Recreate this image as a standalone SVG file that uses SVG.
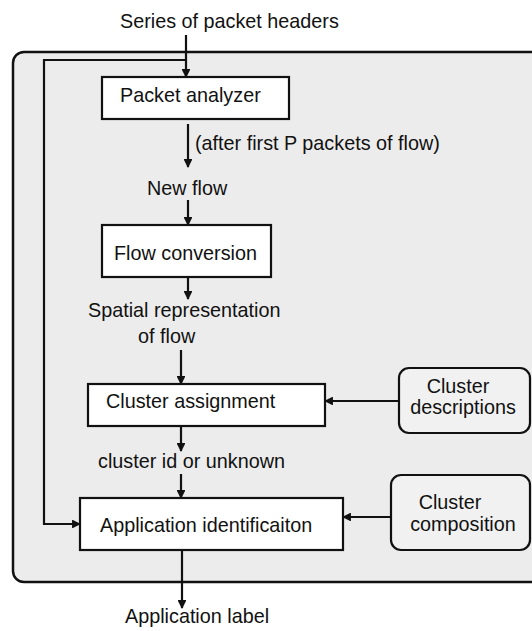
<svg xmlns="http://www.w3.org/2000/svg" width="532" height="631" viewBox="0 0 532 631">
<style>
text{font-family:"Liberation Sans",Arial,sans-serif;font-size:19.8px;fill:#111}
.box{fill:#fff;stroke:#111;stroke-width:2.2}
.rbox{fill:#f1f1f1;stroke:#111;stroke-width:2.2}
.ln{fill:none;stroke:#111;stroke-width:2.2}
.mid{text-anchor:middle}
</style>
<defs>
<marker id="ah" viewBox="0 0 10 10" refX="9" refY="5" markerWidth="4" markerHeight="4" orient="auto" markerUnits="strokeWidth">
<path d="M0,0 L10,5 L0,10 z" fill="#111"/>
</marker>
</defs>
<rect width="532" height="631" fill="#fff"/>
<g id="frame">
<rect x="13" y="52" width="532" height="530" rx="11" fill="#ececec" stroke="#111" stroke-width="2.5"/>
</g>
<g id="connectors">
<line class="ln" x1="186" y1="35" x2="186" y2="77" marker-end="url(#ah)"/>
<polyline class="ln" points="186,60 44,60 44,524 80,524" marker-end="url(#ah)"/>
<line class="ln" x1="188" y1="124" x2="188" y2="167" marker-end="url(#ah)"/>
<line class="ln" x1="188" y1="200" x2="188" y2="225" marker-end="url(#ah)"/>
<line class="ln" x1="188" y1="277" x2="188" y2="299" marker-end="url(#ah)"/>
<line class="ln" x1="181" y1="350" x2="181" y2="384" marker-end="url(#ah)"/>
<line class="ln" x1="399" y1="401" x2="325" y2="401" marker-end="url(#ah)"/>
<line class="ln" x1="181" y1="426" x2="181" y2="451" marker-end="url(#ah)"/>
<line class="ln" x1="181" y1="474" x2="181" y2="498" marker-end="url(#ah)"/>
<line class="ln" x1="391" y1="517" x2="343" y2="517" marker-end="url(#ah)"/>
<line class="ln" x1="182" y1="550" x2="182" y2="608" marker-end="url(#ah)"/>
</g>
<g id="input"><text x="120" y="28">Series of packet headers</text></g>
<g id="packet-analyzer">
<rect class="box" x="102" y="77" width="187" height="42"/>
<text x="120" y="102">Packet analyzer</text>
</g>
<g id="label-after"><text x="195" y="150">(after first P packets of flow)</text></g>
<g id="label-newflow"><text x="147" y="195">New flow</text></g>
<g id="flow-conversion">
<rect class="box" x="102" y="225" width="169" height="52"/>
<text x="114" y="260">Flow conversion</text>
</g>
<g id="label-spatial">
<text x="88" y="317">Spatial representation</text>
<text x="138" y="343">of flow</text>
</g>
<g id="cluster-assignment">
<rect class="box" x="88" y="384" width="237" height="42"/>
<text x="106" y="408">Cluster assignment</text>
</g>
<g id="cluster-descriptions">
<rect class="rbox" x="399" y="368" width="131" height="65" rx="10"/>
<text class="mid" x="458" y="393">Cluster</text>
<text class="mid" x="463" y="414">descriptions</text>
</g>
<g id="label-clusterid"><text x="98" y="468">cluster id or unknown</text></g>
<g id="application-identification">
<rect class="box" x="80" y="498" width="263" height="52"/>
<text x="100" y="532">Application identificaiton</text>
</g>
<g id="cluster-composition">
<rect class="rbox" x="391" y="475" width="139" height="75" rx="10"/>
<text class="mid" x="450" y="509">Cluster</text>
<text class="mid" x="463" y="531">composition</text>
</g>
<g id="output"><text x="125" y="623">Application label</text></g>
</svg>
